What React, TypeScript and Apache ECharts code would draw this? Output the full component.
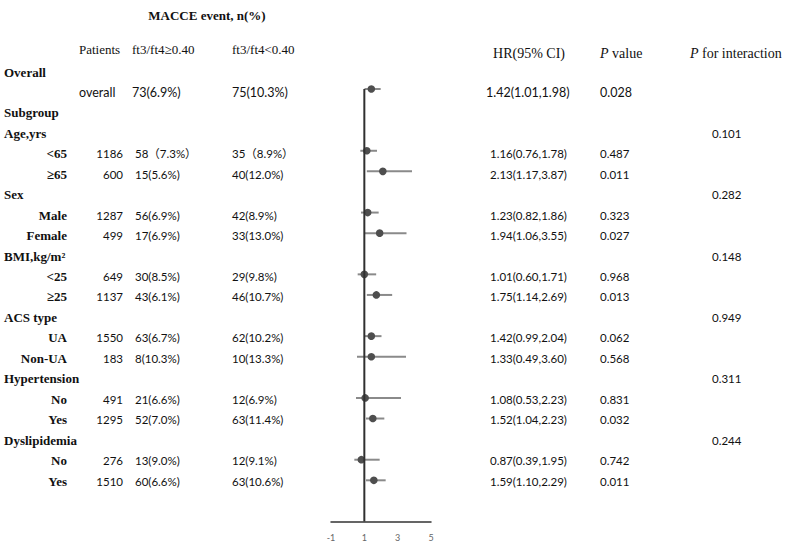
import React, { useEffect, useRef } from "react";
import * as echarts from "echarts";

// ---------- data ----------
const rowLabels = [
  "Overall", "overall", "Subgroup", "Age,yrs", "<65", "≥65", "Sex", "Male", "Female",
  "BMI,kg/m²", "<25", "≥25", "ACS type", "UA", "Non-UA", "Hypertension", "No", "Yes",
  "Dyslipidemia", "No", "Yes",
];
const groupRows = [0, 2, 3, 6, 9, 12, 15, 18];
const patients = ["", "", "", "", "1186", "600", "", "1287", "499", "", "649", "1137", "", "1550", "183", "", "491", "1295", "", "276", "1510"];
const eventsHigh = ["", "73(6.9%)", "", "", "58（7.3%）", "15(5.6%)", "", "56(6.9%)", "17(6.9%)", "", "30(8.5%)", "43(6.1%)", "", "63(6.7%)", "8(10.3%)", "", "21(6.6%)", "52(7.0%)", "", "13(9.0%)", "60(6.6%)"];
const eventsLow = ["", "75(10.3%)", "", "", "35（8.9%）", "40(12.0%)", "", "42(8.9%)", "33(13.0%)", "", "29(9.8%)", "46(10.7%)", "", "62(10.2%)", "10(13.3%)", "", "12(6.9%)", "63(11.4%)", "", "12(9.1%)", "63(10.6%)"];
const hrText = ["", "1.42(1.01,1.98)", "", "", "1.16(0.76,1.78)", "2.13(1.17,3.87)", "", "1.23(0.82,1.86)", "1.94(1.06,3.55)", "", "1.01(0.60,1.71)", "1.75(1.14,2.69)", "", "1.42(0.99,2.04)", "1.33(0.49,3.60)", "", "1.08(0.53,2.23)", "1.52(1.04,2.23)", "", "0.87(0.39,1.95)", "1.59(1.10,2.29)"];
const pValues = ["", "0.028", "", "", "0.487", "0.011", "", "0.323", "0.027", "", "0.968", "0.013", "", "0.062", "0.568", "", "0.831", "0.032", "", "0.742", "0.011"];
const pInteraction = ["", "", "", "0.101", "", "", "0.282", "", "", "0.148", "", "", "0.949", "", "", "0.311", "", "", "0.244", "", ""];

// forest plot marks (read from the plotted positions)
const plotRows = [1, 4, 5, 7, 8, 10, 11, 13, 14, 16, 17, 19, 20];
const hr = [1.42, 1.15, 2.11, 1.2, 1.92, 1.0, 1.72, 1.42, 1.42, 1.05, 1.51, 0.82, 1.57];
const ciLow = [1.01, 0.76, 1.15, 0.8, 1.04, 0.6, 1.15, 0.99, 0.56, 0.5, 1.1, 0.4, 1.1];
const ciHigh = [1.98, 1.76, 3.86, 1.86, 3.53, 1.71, 2.67, 2.03, 3.5, 3.2, 2.2, 1.92, 2.28];
const xTickLabels = [-1, 1, 3, 5];

// ---------- styling ----------
const SERIF = '"Liberation Serif", "Times New Roman", serif';
const SANS = 'Lato, "Liberation Sans", "Noto Sans CJK SC", sans-serif';
const INK = "#111111";

type Item = { x: number; row: number; text: string; font: string; align: string };

function buildItems(): Item[] {
  const items: Item[] = [];
  const gFont = `bold 13px ${SERIF}`;
  const nFont = `11.5px ${SANS}`;
  const oFont = `12.5px ${SANS}`;
  rowLabels.forEach((lab, r) => {
    if (groupRows.includes(r)) {
      items.push({ x: 4, row: r, text: lab, font: gFont, align: "left" });
    } else if (r === 1) {
      items.push({ x: 79, row: r, text: lab, font: oFont, align: "left" });
    } else {
      items.push({ x: 67, row: r, text: lab, font: gFont, align: "right" });
    }
    const ov = r === 1;
    if (patients[r]) items.push({ x: 123, row: r, text: patients[r], font: nFont, align: "right" });
    if (eventsHigh[r]) items.push({ x: ov ? 132 : 135, row: r, text: eventsHigh[r], font: ov ? oFont : nFont, align: "left" });
    if (eventsLow[r]) items.push({ x: 232, row: r, text: eventsLow[r], font: ov ? oFont : nFont, align: "left" });
    if (hrText[r]) items.push({ x: ov ? 486 : 490, row: r, text: hrText[r], font: ov ? oFont : nFont, align: "left" });
    if (pValues[r]) items.push({ x: 600, row: r, text: pValues[r], font: ov ? oFont : nFont, align: "left" });
    if (pInteraction[r]) items.push({ x: 712, row: r, text: pInteraction[r], font: nFont, align: "left" });
  });
  return items;
}

export default function App() {
  const ref = useRef<HTMLDivElement>(null);
  useEffect(() => {
    if (!ref.current) return;
    const chart = echarts.init(ref.current, null, { renderer: "svg" });
    const items = buildItems();
    const headerFont = `13px ${SERIF}`;
    const rightHeader = 14;
    const option: any = {
      animation: false,
      backgroundColor: "#ffffff",
      grid: [
        { left: 0, top: 51.55, width: 787, height: 470.35 },
        { left: 331, top: 47.8, width: 100, height: 473.7 },
      ],
      xAxis: [
        { gridIndex: 0, type: "value", min: 0, max: 787, show: false },
        {
          gridIndex: 1,
          type: "value",
          min: -1,
          max: 5,
          interval: 1,
          axisLine: { show: true, onZero: false, lineStyle: { color: "#333", width: 1.5 } },
          axisTick: { show: false },
          splitLine: { show: false },
          axisLabel: {
            color: "#666",
            fontSize: 9,
            fontFamily: SANS,
            margin: 11,
            showMinLabel: true,
            showMaxLabel: true,
            formatter: (v: number) => (xTickLabels.includes(v) ? String(v) : ""),
          },
        },
      ],
      yAxis: [
        { gridIndex: 0, type: "value", min: -1, max: 22, inverse: true, show: false },
        { gridIndex: 1, type: "value", min: -1, max: 22, inverse: true, show: false },
      ],
      graphic: [
        { type: "text", x: 207, y: 15, style: { text: "MACCE event, n(%)", font: `bold 13px ${SERIF}`, fill: INK, align: "center", verticalAlign: "middle" } },
        { type: "text", x: 79, y: 49, style: { text: "Patients", font: headerFont, fill: INK, align: "left", verticalAlign: "middle" } },
        { type: "text", x: 132, y: 49, style: { text: "ft3/ft4≥0.40", font: headerFont, fill: INK, align: "left", verticalAlign: "middle" } },
        { type: "text", x: 232, y: 49, style: { text: "ft3/ft4<0.40", font: headerFont, fill: INK, align: "left", verticalAlign: "middle" } },
        { type: "text", x: 529, y: 53, style: { text: "HR(95% CI)", font: `${rightHeader}px ${SERIF}`, fill: INK, align: "center", verticalAlign: "middle" } },
        {
          type: "text", x: 600, y: 53,
          style: {
            text: "{i|P}{n| value}", fill: INK, align: "left", verticalAlign: "middle",
            rich: { i: { fontStyle: "italic", fontFamily: SERIF, fontSize: rightHeader, fill: INK }, n: { fontFamily: SERIF, fontSize: rightHeader, fill: INK } },
          },
        },
        {
          type: "text", x: 690, y: 53,
          style: {
            text: "{i|P}{n| for interaction}", fill: INK, align: "left", verticalAlign: "middle",
            rich: { i: { fontStyle: "italic", fontFamily: SERIF, fontSize: rightHeader, fill: INK }, n: { fontFamily: SERIF, fontSize: rightHeader, fill: INK } },
          },
        },
      ],
      series: [
        {
          type: "custom",
          xAxisIndex: 0,
          yAxisIndex: 0,
          silent: true,
          data: items.map((it) => [it.x, it.row]),
          renderItem: (params: any, api: any) => {
            const it = items[params.dataIndex];
            const c = api.coord([it.x, it.row]);
            return {
              type: "text",
              x: c[0],
              y: c[1],
              style: { text: it.text, font: it.font, fill: INK, align: it.align, verticalAlign: "middle" },
            };
          },
        },
        {
          type: "line",
          xAxisIndex: 1,
          yAxisIndex: 1,
          silent: true,
          symbol: "none",
          data: [[1, 1], [1, 22]],
          lineStyle: { color: "#303030", width: 2 },
        },
        {
          type: "custom",
          xAxisIndex: 1,
          yAxisIndex: 1,
          silent: true,
          encode: { x: [0, 2, 3], y: 1 },
          data: plotRows.map((r, i) => [hr[i], r, ciLow[i], ciHigh[i]]),
          renderItem: (params: any, api: any) => {
            const row = api.value(1);
            const p = api.coord([api.value(0), row]);
            const lo = api.coord([api.value(2), row]);
            const hi = api.coord([api.value(3), row]);
            return {
              type: "group",
              children: [
                { type: "line", shape: { x1: lo[0], y1: lo[1], x2: hi[0], y2: hi[1] }, style: { stroke: "#8a8a8a", lineWidth: 2 } },
                { type: "circle", shape: { cx: p[0], cy: p[1], r: 3.8 }, style: { fill: "#4e4e4e" } },
              ],
            };
          },
        },
      ],
    };
    chart.setOption(option);
    return () => chart.dispose();
  }, []);
  return (
    <div
      ref={ref}
      style={{ position: "fixed", left: 0, top: 0, width: 787, height: 546, background: "#fff" }}
    />
  );
}
